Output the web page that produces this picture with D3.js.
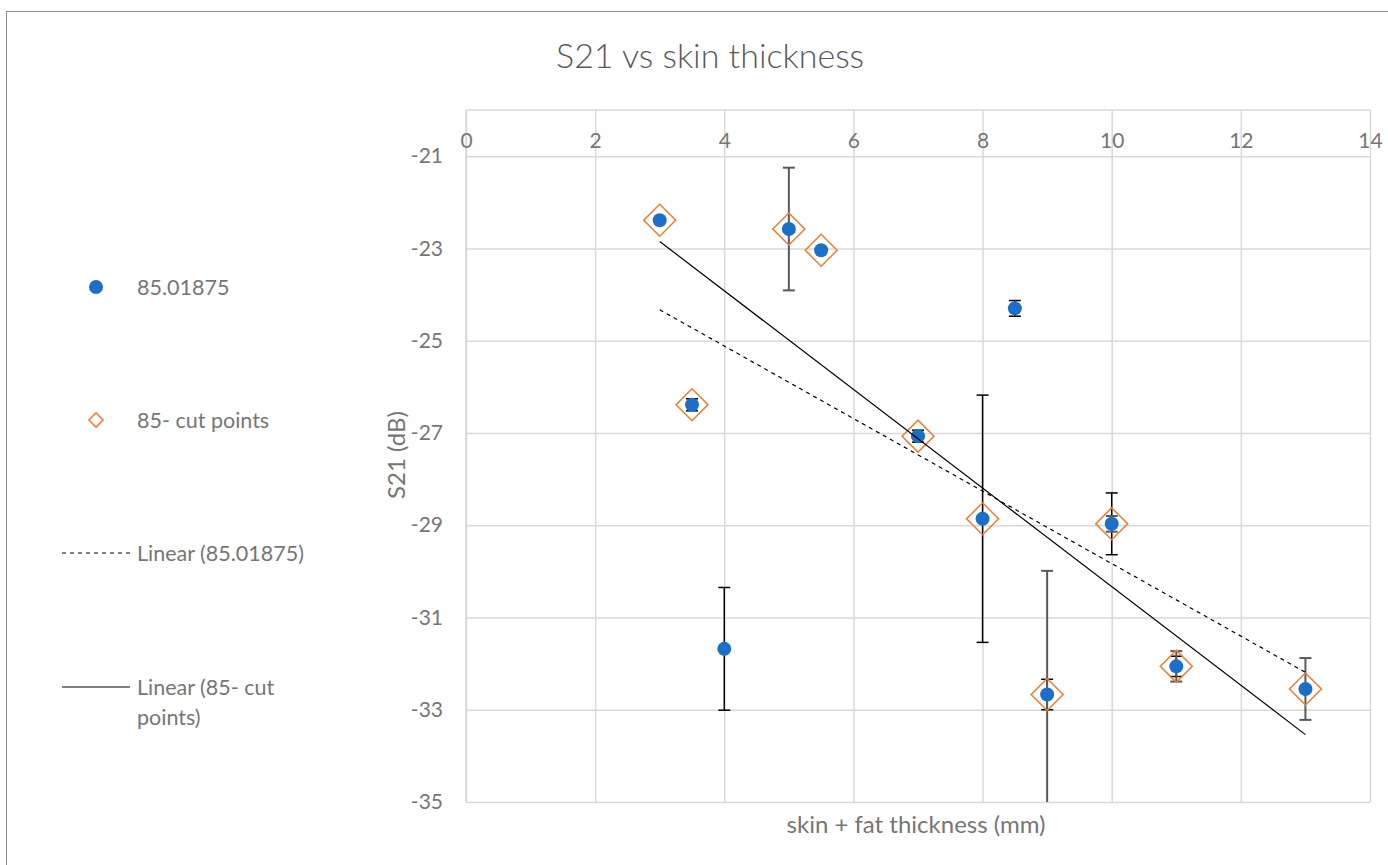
<!DOCTYPE html>
<html>
<head>
<meta charset="utf-8">
<script src="https://cdn.jsdelivr.net/npm/d3@7"></script>
<style>
  html, body { margin: 0; padding: 0; background: #ffffff; }
  svg { display: block; }
  text { font-family: Lato, "Open Sans", sans-serif; }
</style>
</head>
<body>
<div id="chart"></div>
<script>
// ---------- data ----------
const xTicks = [0, 2, 4, 6, 8, 10, 12, 14];
const yTicks = [-21, -23, -25, -27, -29, -31, -33, -35];

// series 1: "85.01875"
const seriesX = [3, 3.5, 4, 5, 5.5, 7, 8, 8.5, 9, 10, 11, 13];
const seriesY = [-22.39, -26.39, -31.68, -22.58, -23.04, -27.07, -28.86, -24.30, -32.67, -28.97, -32.06, -32.55];
const seriesErr = [0, 0.13, 1.33, 0, 0, 0.13, 2.68, 0.17, 0.33, 0.67, 0.22, 0];

// series 2: "85- cut points"
const cutX = [3, 3.5, 5, 5.5, 7, 8, 9, 10, 11, 13];
const cutY = [-22.39, -26.39, -22.58, -23.04, -27.07, -28.86, -32.67, -28.97, -32.06, -32.55];
const cutErr = [0, 0, 1.33, 0, 0, 0, 2.68, 0.17, 0.33, 0.67];

// trendlines (end points)
const trendSeriesX = [3, 13];
const trendSeriesY = [-24.33, -32.19];
const trendCutX = [3, 13];
const trendCutY = [-22.85, -33.54];

const legendLabels = ["85.01875", "85- cut points", "Linear (85.01875)", "Linear (85- cut points)"];

// ---------- layout ----------
const W = 1388, H = 865;
const plot = { left: 466, right: 1370, top: 110, bottom: 802 };
const blue = "#1b6fc6", orange = "#ed7d31", grid = "#d9d9d9", labelColor = "#767676";

const svg = d3.select("#chart").append("svg").attr("width", W).attr("height", H);

// chart border
svg.append("rect").attr("x", 6.5).attr("y", 11.5).attr("width", W + 20).attr("height", H + 20)
  .attr("fill", "none").attr("stroke", "#8c8c8c").attr("stroke-width", 1);

const x = d3.scaleLinear().domain([0, 14]).range([plot.left, plot.right]);
const y = d3.scaleLinear().domain([-35, -20]).range([plot.bottom, plot.top]);

// title
svg.append("text").attr("x", 710).attr("y", 68).attr("text-anchor", "middle")
  .attr("font-size", 34).attr("fill", "#595959").attr("font-weight", 300)
  .text("S21 vs skin thickness");

// gridlines
const gx = svg.append("g").attr("transform", `translate(0,${plot.bottom})`)
  .call(d3.axisBottom(x).tickValues(xTicks).tickSize(-(plot.bottom - plot.top)).tickFormat(""));
gx.selectAll("line").attr("stroke", grid).attr("stroke-width", 1.5);
gx.select(".domain").remove();

const gy = svg.append("g").attr("transform", `translate(${plot.left},0)`)
  .call(d3.axisLeft(y).tickValues(yTicks).tickSize(-(plot.right - plot.left)).tickFormat(""));
gy.selectAll("line").attr("stroke", grid).attr("stroke-width", 1.5);
gy.select(".domain").remove();

// axis lines (top horizontal axis at -20, left vertical)
svg.append("line").attr("x1", plot.left).attr("x2", plot.right).attr("y1", y(-20)).attr("y2", y(-20))
  .attr("stroke", grid).attr("stroke-width", 1.5);
svg.append("line").attr("x1", plot.left).attr("x2", plot.left).attr("y1", plot.top).attr("y2", plot.bottom)
  .attr("stroke", grid).attr("stroke-width", 1.5);

// x tick labels (below top axis)
const ax = svg.append("g").attr("transform", `translate(0,${y(-20)})`)
  .call(d3.axisBottom(x).tickValues(xTicks).tickSize(0).tickPadding(23).tickFormat(d3.format("d")));
ax.select(".domain").remove();
ax.selectAll("text").attr("font-size", 21).attr("fill", labelColor).attr("font-family", "Lato, sans-serif");

// y tick labels
const ay = svg.append("g").attr("transform", `translate(${plot.left},0)`)
  .call(d3.axisLeft(y).tickValues(yTicks).tickSize(0).tickPadding(23).tickFormat(d => "-" + Math.abs(d)));
ay.select(".domain").remove();
ay.selectAll("text").attr("font-size", 21).attr("fill", labelColor).attr("font-family", "Lato, sans-serif");

// axis titles
svg.append("text").attr("transform", `translate(405,${455}) rotate(-90)`).attr("text-anchor", "middle")
  .attr("font-size", 24).attr("fill", labelColor).text("S21 (dB)");
svg.append("text").attr("x", 916).attr("y", 833).attr("text-anchor", "middle")
  .attr("font-size", 24).attr("fill", labelColor).text("skin + fat thickness (mm)");

// clip for plot area
svg.append("clipPath").attr("id", "clip").append("rect")
  .attr("x", plot.left).attr("y", plot.top).attr("width", plot.right - plot.left).attr("height", plot.bottom - plot.top);
const pg = svg.append("g").attr("clip-path", "url(#clip)");

function errorBars(g, xs, ys, es, color, width) {
  const data = xs.map((v, i) => ({ x: v, y: ys[i], e: es[i] })).filter(d => d.e > 0);
  const eg = g.append("g");
  eg.selectAll(".v").data(data).join("line")
    .attr("x1", d => x(d.x)).attr("x2", d => x(d.x))
    .attr("y1", d => y(d.y + d.e)).attr("y2", d => y(d.y - d.e))
    .attr("stroke", color).attr("stroke-width", width);
  eg.selectAll(".ct").data(data).join("line")
    .attr("x1", d => x(d.x) - 6).attr("x2", d => x(d.x) + 6)
    .attr("y1", d => y(d.y + d.e)).attr("y2", d => y(d.y + d.e))
    .attr("stroke", color).attr("stroke-width", width);
  eg.selectAll(".cb").data(data).join("line")
    .attr("x1", d => x(d.x) - 6).attr("x2", d => x(d.x) + 6)
    .attr("y1", d => y(d.y - d.e)).attr("y2", d => y(d.y - d.e))
    .attr("stroke", color).attr("stroke-width", width);
}

// error bars
errorBars(pg, seriesX, seriesY, seriesErr, "#000000", 1.5);
errorBars(pg, cutX, cutY, cutErr, "#595959", 2);

// markers series 1
pg.append("g").selectAll("circle").data(seriesX.map((v, i) => [v, seriesY[i]])).join("circle")
  .attr("cx", d => x(d[0])).attr("cy", d => y(d[1])).attr("r", 7).attr("fill", blue);

// markers series 2 (diamonds)
const diamond = d3.symbol().type(d3.symbolSquare).size(22.6 * 22.6);
pg.append("g").selectAll("path").data(cutX.map((v, i) => [v, cutY[i]])).join("path")
  .attr("d", diamond)
  .attr("transform", d => `translate(${x(d[0])},${y(d[1])}) rotate(45)`)
  .attr("fill", "none").attr("stroke", orange).attr("stroke-width", 1.5);

// trendlines
const line = d3.line().x(d => x(d[0])).y(d => y(d[1]));
pg.append("path").datum(trendSeriesX.map((v, i) => [v, trendSeriesY[i]])).attr("d", line)
  .attr("fill", "none").attr("stroke", "#000").attr("stroke-width", 1.2).attr("stroke-dasharray", "4,4");
pg.append("path").datum(trendCutX.map((v, i) => [v, trendCutY[i]])).attr("d", line)
  .attr("fill", "none").attr("stroke", "#000").attr("stroke-width", 1.2);

// legend
const lg = svg.append("g");
lg.append("circle").attr("cx", 96).attr("cy", 287).attr("r", 7).attr("fill", blue);
lg.append("path").attr("d", d3.symbol().type(d3.symbolSquare).size(10 * 10))
  .attr("transform", "translate(96,420) rotate(45)").attr("fill", "none").attr("stroke", orange).attr("stroke-width", 1.5);
lg.append("line").attr("x1", 62).attr("x2", 130).attr("y1", 553).attr("y2", 553)
  .attr("stroke", "#000").attr("stroke-width", 1.2).attr("stroke-dasharray", "4,4");
lg.append("line").attr("x1", 62).attr("x2", 130).attr("y1", 687).attr("y2", 687)
  .attr("stroke", "#000").attr("stroke-width", 1.2);

const legendText = [
  { lines: [legendLabels[0]], y: 287 },
  { lines: [legendLabels[1]], y: 420 },
  { lines: [legendLabels[2]], y: 553 },
  { lines: ["Linear (85- cut", "points)"], y: 687 }
];
legendText.forEach(item => {
  const t = lg.append("text").attr("x", 137).attr("y", item.y)
    .attr("font-size", 21.5).attr("fill", labelColor);
  item.lines.forEach((l, i) => {
    t.append("tspan").attr("x", 137).attr("dy", i === 0 ? "0.35em" : 30).text(l);
  });
});
</script>
</body>
</html>
